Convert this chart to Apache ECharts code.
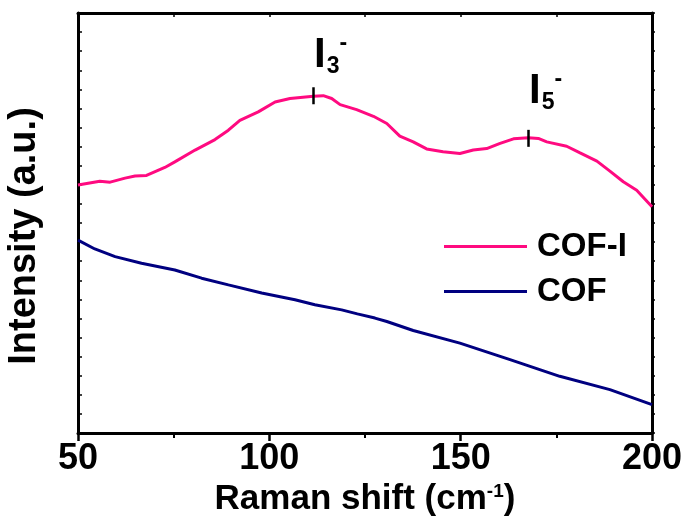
<!DOCTYPE html>
<html>
<head>
<meta charset="utf-8">
<script src="https://cdn.jsdelivr.net/npm/echarts@6/dist/echarts.min.js"></script>
<style>html,body{margin:0;padding:0;background:#fff;}#c{width:689px;height:519px;}</style>
</head>
<body>
<div id="c"></div>
<script>
// Raman shift (cm-1) positions and intensities (arbitrary units)
const cofIX = [50, 55.7, 58.4, 62.3, 64.9, 67.9, 72.7, 75.3, 80.6, 85.8, 89.3, 92.3, 97.1, 101.5, 105.4, 111.5, 114.1, 116.3, 118.5, 122.8, 127.2, 130.7, 134.1, 137.6, 141.1, 145.4, 149.8, 153.3, 156.8, 160.3, 163.8, 167.7, 170.3, 172.5, 177.7, 181.2, 185.6, 189, 192.5, 196, 200];
const cofIY = [12.99, 13.19, 13.14, 13.35, 13.46, 13.49, 13.91, 14.20, 14.82, 15.37, 15.86, 16.38, 16.82, 17.34, 17.52, 17.64, 17.67, 17.52, 17.20, 16.94, 16.59, 16.21, 15.55, 15.25, 14.88, 14.73, 14.64, 14.82, 14.90, 15.17, 15.41, 15.46, 15.43, 15.25, 15.02, 14.67, 14.24, 13.72, 13.16, 12.72, 11.85];
const cofX = [50, 54.4, 59.7, 66.6, 75.3, 82.3, 89.3, 98, 106.7, 111.9, 118.9, 123, 127.6, 130.7, 137.6, 149.8, 162.9, 175.9, 189, 200];
const cofY = [10.1, 9.64, 9.24, 8.89, 8.54, 8.11, 7.76, 7.33, 6.98, 6.72, 6.45, 6.24, 6.02, 5.84, 5.37, 4.71, 3.84, 2.97, 2.27, 1.49];
const seriesNames = ['COF-I', 'COF'];
const xTicks = [50, 100, 150, 200];
// peak annotations: [x, tick bottom, tick top, label y, subscript]
const peaks = [[111.5, 17.22, 18.11, 19.8, '3'], [167.7, 14.99, 15.88, 17.9, '5']];

const FONT = 'Liberation Sans';
const zip = (a, b) => a.map((v, i) => [v, b[i]]);
const chart = echarts.init(document.getElementById('c'), null, {renderer: 'canvas'});
const axisLine = {show: true, onZero: false, lineStyle: {color: '#000', width: 3}};
const peakLines = peaks.map(p => [{coord: [p[0], p[1]]}, {coord: [p[0], p[2]]}]);
const peakLabels = peaks.map(p => ({
  coord: [p[0] + 4.5, p[3]],
  label: {formatter: '{I|I}{sub|' + p[4] + '}{sup|-}'}
}));
chart.setOption({
  animation: false,
  backgroundColor: '#fff',
  grid: {left: 78, right: 37, top: 13, bottom: 86, outerBoundsMode: 'none', containLabel: false},
  legend: {
    orient: 'vertical', left: 439, top: 225, itemGap: 12,
    itemWidth: 83, itemHeight: 3, icon: 'rect',
    textStyle: {fontFamily: FONT, fontWeight: 'bold', fontSize: 33, color: '#000', padding: [0, 0, 0, 5]},
    data: seriesNames
  },
  xAxis: [{
    type: 'value', min: 50, max: 200, interval: 50, position: 'bottom',
    axisLine: axisLine,
    axisTick: {show: true, inside: false, length: 8, lineStyle: {width: 2.5, color: '#000'}},
    minorTick: {show: true, splitNumber: 2, length: 5, lineStyle: {width: 2, color: '#000'}},
    splitLine: {show: false},
    axisLabel: {fontFamily: FONT, fontWeight: 'bold', fontSize: 36, color: '#000', margin: 8,
      formatter: v => xTicks.includes(v) ? String(v) : ''},
    name: '{n|Raman shift (cm}{s|-1}{n|)}', nameLocation: 'middle', nameGap: 44,
    nameTextStyle: {rich: {
      n: {fontFamily: FONT, fontWeight: 'bold', fontSize: 35, color: '#000'},
      s: {fontFamily: FONT, fontWeight: 'bold', fontSize: 19, color: '#000', verticalAlign: 'top', padding: [0, 0, 14, 0]}
    }}
  }, {
    type: 'value', min: 50, max: 200, interval: 25, position: 'top',
    axisLine: axisLine,
    axisTick: {show: true, inside: true, length: 4, lineStyle: {width: 1.5, color: '#000'}},
    axisLabel: {show: false}, splitLine: {show: false}
  }],
  yAxis: [{
    type: 'value', min: 0, max: 22, interval: 1, position: 'left',
    axisLine: axisLine,
    axisTick: {show: true, inside: true, length: 4, lineStyle: {width: 1.5, color: '#000'}},
    axisLabel: {show: false}, splitLine: {show: false},
    name: 'Intensity (a.u.)', nameLocation: 'middle', nameGap: 34,
    nameTextStyle: {fontFamily: FONT, fontWeight: 'bold', fontSize: 38, color: '#000', padding: [0, 26, 0, 0]}
  }, {
    type: 'value', min: 0, max: 22, interval: 1, position: 'right',
    axisLine: axisLine,
    axisTick: {show: true, inside: false, length: 3, lineStyle: {width: 1.5, color: '#000'}},
    axisLabel: {show: false}, splitLine: {show: false}
  }],
  series: [{
    name: seriesNames[0], type: 'line', data: zip(cofIX, cofIY), symbol: 'none',
    lineStyle: {color: '#FF0A80', width: 3}, itemStyle: {color: '#FF0A80'},
    markLine: {silent: true, symbol: 'none', label: {show: false},
      lineStyle: {color: '#000', width: 2.5, type: 'solid'}, data: peakLines},
    markPoint: {silent: true, symbol: 'circle', symbolSize: 0,
      label: {show: true, position: 'inside', rich: {
        I: {fontFamily: FONT, fontWeight: 'bold', fontSize: 42, color: '#000', lineHeight: 46},
        sub: {fontFamily: FONT, fontWeight: 'bold', fontSize: 23, color: '#000', verticalAlign: 'bottom', lineHeight: 46, padding: [0, 0, 0, 1]},
        sup: {fontFamily: FONT, fontWeight: 'bold', fontSize: 23, color: '#000', verticalAlign: 'top', lineHeight: 46}
      }},
      data: peakLabels}
  }, {
    name: seriesNames[1], type: 'line', data: zip(cofX, cofY), symbol: 'none',
    lineStyle: {color: '#000080', width: 3}, itemStyle: {color: '#000080'}
  }]
});
</script>
</body>
</html>
